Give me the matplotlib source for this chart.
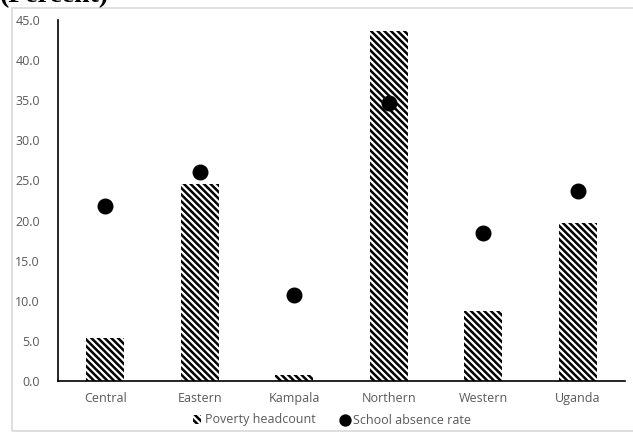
import matplotlib.pyplot as plt
import matplotlib.patches as mpatches
import numpy as np

#--------------------------------data--------------------------------#
regions = ["Central", "Eastern", "Kampala", "Northern", "Western", "Uganda"]
poverty = [5.3, 24.5, 0.7, 43.6, 8.7, 19.7]
absence = [21.8, 26.0, 10.7, 34.7, 18.5, 23.7]
yticks = np.arange(0, 46, 5)

#--------------------------------style-------------------------------#
plt.rcParams["hatch.linewidth"] = 1.8
plt.rcParams["font.family"] = ["Open Sans", "DejaVu Sans"]
gray = "#595959"

fig = plt.figure(figsize=(6.33, 4.37), dpi=100)
W, H = 633, 437

# light chart-area border
fig.patches.append(mpatches.Rectangle((12 / W, 1 - 431 / H), 630 / W, 423 / H,
                                      transform=fig.transFigure, fill=False,
                                      edgecolor="#d9d9d9", linewidth=1.2))

# cut-off title above chart
fig.text(0.0, 1 - 2.5 / H, "(Percent)", family="Liberation Serif",
         fontweight="bold", fontsize=20, va="baseline", ha="left")

ax = fig.add_axes([58 / W, 1 - 381 / H, (625 - 58) / W, (381 - 20) / H])
x = np.arange(len(regions))

bars = ax.bar(x, poverty, width=0.4, color="white", edgecolor="black",
              linewidth=0, hatch="\\" * 5, label="Poverty headcount")
dots = ax.scatter(x, absence, s=110, color="black", zorder=3,
                  label="School absence rate")

ax.set_xlim(-0.5, len(regions) - 0.5)
ax.set_ylim(0, 45)
ax.set_yticks(yticks)
ax.set_yticklabels([f"{v:.1f}" for v in yticks])
ax.set_xticks(x)
ax.set_xticklabels(regions)
ax.tick_params(length=0, labelsize=9, colors=gray, pad=8)
ax.tick_params(axis="y", pad=13)
for s in ["top", "right"]:
    ax.spines[s].set_visible(False)
for s in ["left", "bottom"]:
    ax.spines[s].set_color("black")
    ax.spines[s].set_linewidth(1.2)

leg = fig.legend([bars, dots], ["Poverty headcount", "School absence rate"],
                 loc="center", bbox_to_anchor=(332 / W, 1 - 420 / H), ncol=2,
                 frameon=False, fontsize=9, handlelength=0.7, handleheight=0.7,
                 handletextpad=0.3, columnspacing=2.0, markerscale=0.75)
for t in leg.get_texts():
    t.set_color(gray)

fig.savefig("out.png", dpi=100)
